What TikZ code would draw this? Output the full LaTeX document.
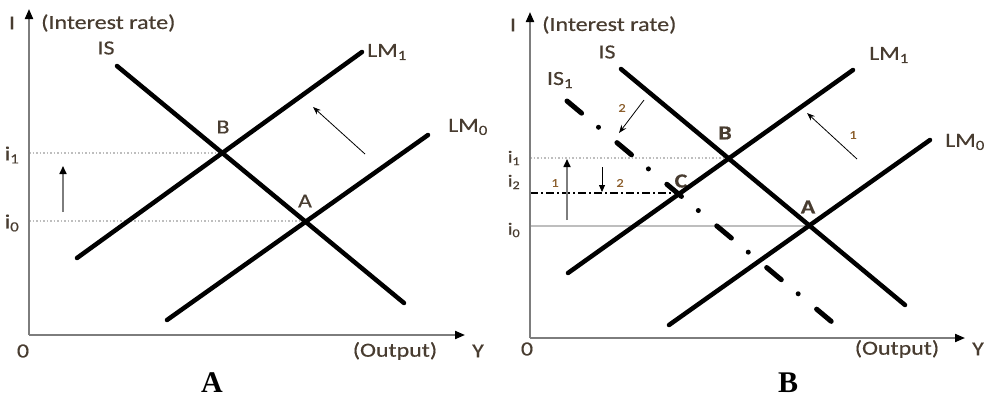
\documentclass[tikz,border=0pt]{standalone}
\usepackage{fontspec}
\setmainfont{Carlito}[FakeStretch=1.2, FakeBold=0.4]
\newfontfamily\capfont{Liberation Serif}
\usetikzlibrary{arrows.meta}
\definecolor{axisgray}{RGB}{125,125,125}
\definecolor{guidegray}{RGB}{190,190,190}
\definecolor{labelcol}{RGB}{72,60,48}
\definecolor{numcol}{RGB}{140,95,45}

\begin{document}
\begin{tikzpicture}[x=1pt, y=-1pt,
		axis/.style={draw=axisgray, line width=2pt, -{Triangle[length=10pt,width=8pt,color=black]}},
		curve/.style={line width=4.5pt, line cap=round},
		iscurve/.style={line width=5pt, line cap=round, dash pattern=on 19pt off 22pt on 0pt off 24pt},
		guide/.style={draw=guidegray, line width=1.5pt, dotted},
		shiftarrow/.style={line width=0.8pt, -{Stealth[length=8pt,width=6pt]}},
		uparrow/.style={draw=axisgray, line width=1.6pt, -{Triangle[length=8pt,width=7pt,color=black]}},
		lbl/.style={text=labelcol, font=\fontsize{20}{22}\selectfont, inner sep=0pt},
		blbl/.style={lbl, font=\bfseries\fontsize{20}{22}\selectfont},
		slbl/.style={lbl, font=\fontsize{17}{19}\selectfont},
		num/.style={text=numcol, font=\fontsize{12}{13}\selectfont, inner sep=0pt},
		caption/.style={font=\capfont\bfseries\fontsize{30}{32}\selectfont, inner sep=0pt}
	]
	\useasboundingbox (0,0) rectangle (993,400);
	% panel A
	\node[shape=coordinate] (a0) at (29,335) {};
	\node[shape=coordinate] (ay) at (29,9) {};
	\node[shape=coordinate] (ax) at (465,335) {};
	\node[shape=coordinate] (aB) at (222,153) {};
	\node[shape=coordinate] (aA) at (305,221) {};
	\node[shape=coordinate] (ai1) at (29,153) {};
	\node[shape=coordinate] (ai0) at (29,221) {};
	\node[shape=coordinate] (aIS1) at (117,66) {};
	\node[shape=coordinate] (aIS2) at (404,303) {};
	\node[shape=coordinate] (aLMa1) at (77,258) {};
	\node[shape=coordinate] (aLMa2) at (362,52) {};
	\node[shape=coordinate] (aLMb1) at (167,320) {};
	\node[shape=coordinate] (aLMb2) at (428,135) {};
	\node[shape=coordinate] (aup1) at (63,212) {};
	\node[shape=coordinate] (aup2) at (63,166) {};
	\node[shape=coordinate] (anw1) at (365,154) {};
	\node[shape=coordinate] (anw2) at (313,107) {};
	\node[lbl] (aIlab) at (12,23) {I};
	\node[lbl, anchor=west] (arate) at (41,23) {(Interest rate)};
	\node[lbl] (aISlab) at (106,48) {IS};
	\node[lbl, anchor=west] (aLM1lab) at (367,52) {LM\textsubscript{1}};
	\node[lbl, anchor=west] (aLM0lab) at (448,127) {LM\textsubscript{0}};
	\node[lbl] (aBlab) at (223,127) {B};
	\node[lbl] (aAlab) at (305,201) {A};
	\node[lbl] (ai1lab) at (12,155) {i\textsubscript{1}};
	\node[lbl] (ai0lab) at (12,223) {i\textsubscript{0}};
	\node[lbl] (a0lab) at (23,351) {0};
	\node[lbl] (aoutlab) at (395,351) {(Output)};
	\node[lbl] (aYlab) at (478,351) {Y};
	\node[caption, anchor=base] (acap) at (212,392) {A};
	\draw[guide] (ai1) -- (aB);
	\draw[guide] (ai0) -- (aA);
	\draw[axis] (a0) -- (ay);
	\draw[axis] (a0) -- (ax);
	\draw[curve] (aIS1) -- (aIS2);
	\draw[curve] (aLMa1) -- (aLMa2);
	\draw[curve] (aLMb1) -- (aLMb2);
	\draw[uparrow] (aup1) -- (aup2);
	\draw[shiftarrow] (anw1) -- (anw2);
	% panel B
	\node[shape=coordinate] (b0) at (530,338) {};
	\node[shape=coordinate] (by) at (530,12) {};
	\node[shape=coordinate] (bx) at (965,338) {};
	\node[shape=coordinate] (bB) at (727,158) {};
	\node[shape=coordinate] (bA) at (808,226) {};
	\node[shape=coordinate] (bC) at (678,193) {};
	\node[shape=coordinate] (bi1) at (530,158) {};
	\node[shape=coordinate] (bi2) at (530,193) {};
	\node[shape=coordinate] (bi0) at (530,226) {};
	\node[shape=coordinate] (bIS1) at (621,69) {};
	\node[shape=coordinate] (bIS2) at (905,305) {};
	\node[shape=coordinate] (bISs1) at (567,101) {};
	\node[shape=coordinate] (bISs2) at (832,322) {};
	\node[shape=coordinate] (bLMa1) at (568,273) {};
	\node[shape=coordinate] (bLMa2) at (853,70) {};
	\node[shape=coordinate] (bLMb1) at (669,325) {};
	\node[shape=coordinate] (bLMb2) at (930,140) {};
	\node[shape=coordinate] (bup1) at (567,220) {};
	\node[shape=coordinate] (bup2) at (567,159) {};
	\node[shape=coordinate] (bdn1) at (602,167) {};
	\node[shape=coordinate] (bdn2) at (602,192) {};
	\node[shape=coordinate] (bsw1) at (644,100) {};
	\node[shape=coordinate] (bsw2) at (619,133) {};
	\node[shape=coordinate] (bnw1) at (857,159) {};
	\node[shape=coordinate] (bnw2) at (807,113) {};
	\node[lbl] (bIlab) at (513,25) {I};
	\node[lbl, anchor=west] (brate) at (542,25) {(Interest rate)};
	\node[lbl] (bISlab) at (607,52) {IS};
	\node[lbl] (bISslab) at (560,80) {IS\textsubscript{1}};
	\node[lbl, anchor=west] (bLM1lab) at (869,55) {LM\textsubscript{1}};
	\node[lbl, anchor=west] (bLM0lab) at (945,142) {LM\textsubscript{0}};
	\node[blbl] (bBlab) at (725,133) {B};
	\node[blbl] (bAlab) at (808,207) {A};
	\node[blbl] (bClab) at (681,181) {C};
	\node[slbl] (bi1lab) at (514,158) {i\textsubscript{1}};
	\node[slbl] (bi2lab) at (514,182) {i\textsubscript{2}};
	\node[slbl] (bi0lab) at (514,230) {i\textsubscript{0}};
	\node[num] (bn1a) at (555,183) {1};
	\node[num] (bn2a) at (620,183) {2};
	\node[num] (bn2b) at (622,108) {2};
	\node[num] (bn1b) at (853,135) {1};
	\node[lbl] (b0lab) at (527,349) {0};
	\node[lbl] (boutlab) at (897,349) {(Output)};
	\node[lbl] (bYlab) at (978,349) {Y};
	\node[caption, anchor=base] (bcap) at (788,392) {B};
	\draw[guide] (bi1) -- (bB);
	\draw[line width=1.2pt, dash pattern=on 8pt off 3pt on 2pt off 3pt] (bi2) -- (bC);
	\draw[draw=guidegray, line width=1.5pt] (bi0) -- (bA);
	\draw[axis] (b0) -- (by);
	\draw[axis] (b0) -- (bx);
	\draw[curve] (bIS1) -- (bIS2);
	\draw[curve] (bLMa1) -- (bLMa2);
	\draw[curve] (bLMb1) -- (bLMb2);
	\draw[iscurve] (bISs1) -- (bISs2);
	\draw[uparrow] (bup1) -- (bup2);
	\draw[shiftarrow, -{Triangle[length=7pt,width=6pt]}] (bdn1) -- (bdn2);
	\draw[shiftarrow] (bsw1) -- (bsw2);
	\draw[shiftarrow] (bnw1) -- (bnw2);
\end{tikzpicture}
\end{document}
